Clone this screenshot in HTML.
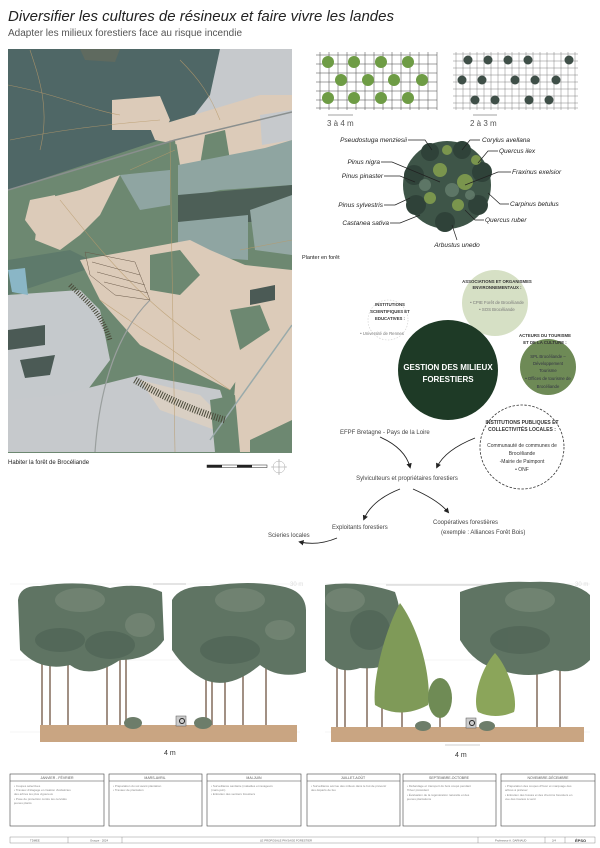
<!DOCTYPE html>
<html><head><meta charset="utf-8"><style>
html,body{margin:0;padding:0;background:#fff;}
svg{display:block;}
text{font-family:"Liberation Sans",sans-serif;}
</style></head><body>
<svg width="600" height="848" viewBox="0 0 600 848" xmlns="http://www.w3.org/2000/svg">
<rect width="600" height="848" fill="#fff"/>
<text x="8" y="21" font-family="Liberation Serif" font-style="italic" font-size="15" fill="#222">Diversifier les cultures de résineux et faire vivre les landes</text>
<text x="8" y="36" font-size="10" fill="#555">Adapter les milieux forestiers face au risque incendie</text>

<!-- MAP -->
<clipPath id="mc"><rect x="8" y="49" width="284" height="404"/></clipPath>
<g clip-path="url(#mc)">
<rect x="8" y="49" width="284" height="404" fill="#6d8871"/>
<polygon points="8,49 220,49 215,100 175,135 8,190" fill="#4f6766"/>
<polygon points="80,49 120,49 115,62 85,60" fill="#5f6a5f"/>
<polygon points="220,49 292,49 292,140 175,140 210,95" fill="#c6c9cc"/>
<polygon points="112,100 160,96 170,120 165,130 112,130" fill="#dccbb9"/>
<polygon points="150,128 260,95 292,95 292,112 180,145 155,140" fill="#dccbb9"/>
<polygon points="175,135 292,112 292,150 180,165" fill="#dccbb9"/>
<polygon points="205,135 225,130 230,160 200,165" fill="#6d8871"/>
<polygon points="260,115 292,110 292,140 262,145" fill="#c6c9cc"/>
<polygon points="8,190 175,140 178,170 170,250 8,260" fill="#6d8871"/>
<polygon points="40,200 80,190 120,175 100,215 80,235 60,250 35,240" fill="#dccbb9"/>
<polygon points="30,200 55,195 60,235 40,240 25,220" fill="#dccbb9"/>
<polygon points="120,175 170,170 170,205 140,210" fill="#8fa5a2"/>
<polygon points="178,165 265,148 292,140 292,185 220,190 178,200" fill="#8fa5a1"/>
<polygon points="178,195 292,185 292,222 178,222" fill="#4d5f57"/>
<polygon points="178,222 248,215 248,260 178,255" fill="#8fa5a2"/>
<polygon points="250,210 292,195 292,255 255,250" fill="#94a8a4"/>
<polygon points="8,260 70,250 100,265 8,295" fill="#5e7a6b"/>
<polygon points="80,260 190,240 210,250 245,265 292,270 292,330 250,360 230,390 140,345 100,300" fill="#dccbb9"/>
<polygon points="150,255 180,250 200,275 180,295 150,290" fill="#6d8871"/>
<polygon points="8,295 80,290 100,310 110,360 80,400 8,400" fill="#c5c9cc"/>
<polygon points="8,330 45,325 45,345 8,350" fill="#4b5a55"/>
<polygon points="20,360 55,355 50,375 25,378" fill="#4b5a55"/>
<polygon points="8,270 25,268 28,295 12,292" fill="#8ab6c6"/>
<polygon points="60,395 140,375 220,390 240,452 60,452" fill="#c6c9cc"/>
<polygon points="8,400 60,395 60,452 8,452" fill="#c6c9cc"/>
<polygon points="140,380 200,395 225,420 215,430 160,410" fill="#d9cfc3"/>
<polygon points="240,320 292,310 292,452 230,452" fill="#dccbb9"/>
<polygon points="250,290 275,285 275,300 250,305" fill="#4b5a55"/>
<polygon points="230,310 260,305 270,330 240,350" fill="#6d8871"/>
<polygon points="250,440 292,420 292,452 250,452" fill="#6d8871"/>
<polygon points="210,400 235,395 240,452 215,452" fill="#6d8871"/>
<g stroke="#b89a6a" stroke-width="0.6" fill="none" opacity="0.8">
<path d="M8,85 C60,95 90,110 120,115 M30,50 C40,80 50,110 40,150 M10,140 C60,130 100,125 160,120 M170,140 L175,452 M100,300 L230,390 M180,60 C200,80 210,95 220,120 M60,200 C100,250 140,300 200,340 M240,250 L292,240 M130,170 L175,150"/>
</g>
<path d="M8,190 L175,140 L292,112" stroke="#8a8f8e" stroke-width="1.5" fill="none"/>
<path d="M210,440 L292,325" stroke="#9aa" stroke-width="1.5" fill="none"/>
<path d="M150,300 C120,330 100,380 95,452" stroke="#9a9f9e" stroke-width="1.2" fill="none"/>
<g fill="none" stroke="#6a5a4a" stroke-width="0.5">
<polygon points="85,252 135,262 150,300 115,295 90,275"/>
<path d="M92,262 L140,275 M97,272 L145,285 M104,282 L148,293"/>
</g>
<path d="M70,285 C85,300 100,310 110,340" stroke="#4a4a3a" stroke-width="5" stroke-dasharray="1 1.5" fill="none"/>
<path d="M135,380 C160,395 190,410 225,420" stroke="#4a4a3a" stroke-width="7" stroke-dasharray="1 1.5" fill="none"/>
</g>
<text x="8" y="464" font-size="6" fill="#222">Habiter la forêt de Brocéliande</text>
<rect x="207" y="465" width="60" height="2.5" fill="#fff" stroke="#222" stroke-width="0.5"/>
<rect x="207" y="465" width="15" height="2.5" fill="#222"/><rect x="237" y="465" width="15" height="2.5" fill="#222"/>
<circle cx="279" cy="467" r="6" fill="none" stroke="#aaa" stroke-width="0.5"/>
<path d="M279,459 L279,475 M271,467 L287,467" stroke="#999" stroke-width="0.6"/>

<!-- GRIDS -->
<g stroke="#444" stroke-width="0.5">
<path d="M316,55H437M316,64H437M316,73H437M316,82H437M316,91H437M316,100H437M316,108H437"/>
<path d="M320,52V110M329,52V110M338,52V110M347,52V110M356,52V110M365,52V110M374,52V110M383,52V110M392,52V110M401,52V110M410,52V110M419,52V110M428,52V110M437,52V110"/>
</g>
<g stroke="#666" stroke-width="0.4">
<path d="M453,54H578M453,61H578M453,68H578M453,75H578M453,82H578M453,89H578M453,96H578M453,103H578M453,108H578"/>
<path d="M456,52V110M463,52V110M470,52V110M477,52V110M484,52V110M491,52V110M498,52V110M505,52V110M512,52V110M519,52V110M526,52V110M533,52V110M540,52V110M547,52V110M554,52V110M561,52V110M568,52V110M575,52V110"/>
</g>
<g fill="#6e9c45">
<circle cx="328" cy="62" r="6"/><circle cx="354" cy="62" r="6"/><circle cx="381" cy="62" r="6"/><circle cx="408" cy="62" r="6"/>
<circle cx="341" cy="80" r="6"/><circle cx="368" cy="80" r="6"/><circle cx="394" cy="80" r="6"/><circle cx="422" cy="80" r="6"/>
<circle cx="328" cy="98" r="6"/><circle cx="354" cy="98" r="6"/><circle cx="381" cy="98" r="6"/><circle cx="408" cy="98" r="6"/>
</g>
<g fill="#3f4f48">
<circle cx="468" cy="60" r="4.5"/><circle cx="488" cy="60" r="4.5"/><circle cx="508" cy="60" r="4.5"/><circle cx="528" cy="60" r="4.5"/><circle cx="569" cy="60" r="4.5"/>
<circle cx="462" cy="80" r="4.5"/><circle cx="482" cy="80" r="4.5"/><circle cx="515" cy="80" r="4.5"/><circle cx="535" cy="80" r="4.5"/><circle cx="556" cy="80" r="4.5"/>
<circle cx="475" cy="100" r="4.5"/><circle cx="495" cy="100" r="4.5"/><circle cx="529" cy="100" r="4.5"/><circle cx="549" cy="100" r="4.5"/>
</g>
<path d="M328,115H353M473,115H497" stroke="#444" stroke-width="0.6"/>
<text x="327" y="126" font-size="8" fill="#555">3 à 4 m</text>
<text x="470" y="126" font-size="8" fill="#555">2 à 3 m</text>

<!-- CLUSTER -->
<g>
<circle cx="447" cy="185" r="44" fill="#3e5548"/>
<g fill="#2f4239"><circle cx="430" cy="152" r="9"/><circle cx="462" cy="150" r="9"/><circle cx="414" cy="175" r="10"/><circle cx="482" cy="172" r="10"/><circle cx="416" cy="205" r="10"/><circle cx="478" cy="205" r="10"/><circle cx="445" cy="222" r="10"/></g>
<g fill="#8aa64f" opacity="0.8"><circle cx="440" cy="170" r="7"/><circle cx="465" cy="182" r="8"/><circle cx="430" cy="198" r="6"/><circle cx="458" cy="205" r="6"/><circle cx="447" cy="150" r="5"/><circle cx="476" cy="160" r="5"/></g>
<g fill="#6b8473" opacity="0.7"><circle cx="425" cy="185" r="6"/><circle cx="452" cy="190" r="7"/><circle cx="470" cy="195" r="5"/></g>
</g>
<g stroke="#222" stroke-width="0.7" fill="none">
<path d="M408,140H425L432,150M480,140H470L462,150M498,151H488L478,163M381,162H392L440,182M511,172H498L465,185M384,176H400L415,182M384,205H395L410,198M509,204H500L488,193M484,220H475L465,210M390,223H400L420,215M457,240L452,225"/>
</g>
<g font-style="italic" font-size="6.5" fill="#222">
<text x="407" y="142" text-anchor="end">Pseudostuga menziesii</text>
<text x="482" y="142">Corylus avellana</text>
<text x="499" y="153">Quercus ilex</text>
<text x="380" y="164" text-anchor="end">Pinus nigra</text>
<text x="512" y="174">Fraxinus exelsior</text>
<text x="383" y="178" text-anchor="end">Pinus pinaster</text>
<text x="383" y="207" text-anchor="end">Pinus sylvestris</text>
<text x="510" y="206">Carpinus betulus</text>
<text x="485" y="222">Quercus ruber</text>
<text x="389" y="225" text-anchor="end">Castanea sativa</text>
<text x="457" y="247" text-anchor="middle">Arbustus unedo</text>
</g>
<text x="302" y="259" font-size="5.5" fill="#222">Planter en forêt</text>

<!-- ACTORS -->
<circle cx="495" cy="303" r="33" fill="#d6e0c5"/>
<circle cx="388" cy="320" r="20" fill="none" stroke="#ccc" stroke-width="0.6" stroke-dasharray="1.5 1.5"/>
<circle cx="448" cy="370" r="50" fill="#1e3a26"/>
<circle cx="548" cy="367" r="28" fill="#6e8a56"/>
<circle cx="522" cy="447" r="42" fill="none" stroke="#333" stroke-width="0.8" stroke-dasharray="2.5 1.5"/>
<g font-size="4.3" fill="#333" text-anchor="middle">
<text x="497" y="283" font-weight="bold">ASSOCIATIONS ET ORGANISMES</text>
<text x="497" y="289" font-weight="bold">ENVIRONNEMENTAUX :</text>
<text x="497" y="304" fill="#777">• CPIE Forêt de Brocéliande</text>
<text x="497" y="311" fill="#777">• SOS Brocéliande</text>
<text x="390" y="306" font-weight="bold">INSTITUTIONS</text>
<text x="390" y="313" font-weight="bold">SCIENTIFIQUES ET</text>
<text x="390" y="320" font-weight="bold">EDUCATIVES :</text>
<text x="382" y="335" fill="#777">• Université de Rennes</text>
<text x="545" y="337" font-weight="bold">ACTEURS DU TOURISME</text>
<text x="545" y="344" font-weight="bold">ET DE LA CULTURE :</text>
<text x="548" y="358" fill="#334">SPL Brocéliande –</text>
<text x="548" y="365" fill="#334">Développement</text>
<text x="548" y="372" fill="#334">Tourisme</text>
<text x="548" y="380" fill="#334">• Offices de tourisme de</text>
<text x="548" y="388" fill="#334">Brocéliande</text>
<text x="522" y="424" font-weight="bold" font-size="5">INSTITUTIONS PUBLIQUES ET</text>
<text x="522" y="431" font-weight="bold" font-size="5">COLLECTIVITÉS LOCALES :</text>
<text x="522" y="447" font-size="5">Communauté de communes de</text>
<text x="522" y="455" font-size="5">Brocéliande</text>
<text x="522" y="463" font-size="5">-Mairie de Paimpont</text>
<text x="522" y="471" font-size="5">• ONF</text>
</g>
<text x="448" y="370" font-size="8" font-weight="bold" fill="#fff" text-anchor="middle">GESTION DES MILIEUX</text>
<text x="448" y="382" font-size="8" font-weight="bold" fill="#fff" text-anchor="middle">FORESTIERS</text>
<g font-size="6" fill="#444">
<text x="340" y="434">EFPF Bretagne - Pays de la Loire</text>
<text x="407" y="480" text-anchor="middle">Sylviculteurs et propriétaires forestiers</text>
<text x="332" y="529">Exploitants forestiers</text>
<text x="433" y="524">Coopératives forestières</text>
<text x="441" y="534">(exemple : Alliances Forêt Bois)</text>
<text x="268" y="537">Scieries locales</text>
</g>
<defs><marker id="ar" markerWidth="6" markerHeight="6" refX="4" refY="3" orient="auto"><path d="M0,0L6,3L0,6z" fill="#222"/></marker></defs>
<g stroke="#222" stroke-width="0.9" fill="none" marker-end="url(#ar)">
<path d="M380,437 Q405,448 410,467"/>
<path d="M475,438 Q445,450 437,467"/>
<path d="M400,489 Q372,500 364,519"/>
<path d="M413,489 Q438,500 448,512"/>
<path d="M337,538 Q318,546 300,542"/>
</g>

<!-- SECTIONS -->
<g stroke="#eee" stroke-width="0.6"><path d="M10,584H300M10,660H300M10,732H300M325,584H590M325,660H590M325,732H590"/></g>
<path d="M153,584H186M386,585H500" stroke="#999" stroke-width="0.6"/>
<text x="290" y="586" font-size="6" fill="#ddd">30 m</text>
<text x="575" y="586" font-size="6" fill="#ddd">30 m</text>
<rect x="40" y="725" width="257" height="17" fill="#c9a582"/>
<rect x="331" y="727" width="253" height="15" fill="#c9a582"/>
<g stroke="#8a7565" stroke-width="1.6">
<path d="M42,725V650M50,725V640M68,725V640M107,725V650M120,725V660M126,725V640M206,725V650M212,725V640M225,725V660M243,725V650M266,725V640"/>
<path d="M337,727V650M345,727V640M367,727V650M382,727V700M402,727V690M440,727V690M537,727V660M560,727V650"/>
</g>
<g fill="#5f7463">
<path d="M18,600 Q20,585 40,586 Q80,580 110,588 Q140,582 162,592 L164,640 Q150,660 120,660 Q90,680 70,665 Q40,672 20,650 Z"/>
<path d="M172,600 Q180,585 210,586 Q250,580 280,586 Q305,590 306,610 L306,672 Q280,680 260,665 Q230,690 205,680 Q185,670 172,650 Z"/>
<path d="M325,585 Q360,580 395,592 Q405,620 400,660 Q380,670 360,668 Q340,675 325,660 Z"/>
<path d="M460,592 Q490,580 530,582 Q575,580 590,595 L590,660 Q575,675 555,670 Q530,680 500,670 Q475,665 460,640 Z"/>
</g>
<g fill="#7e8f7e" opacity="0.55">
<ellipse cx="80" cy="600" rx="25" ry="12"/><ellipse cx="140" cy="625" rx="15" ry="12"/><ellipse cx="240" cy="600" rx="25" ry="12"/><ellipse cx="530" cy="600" rx="25" ry="12"/><ellipse cx="345" cy="600" rx="20" ry="12"/><ellipse cx="280" cy="630" rx="15" ry="10"/>
</g>
<g fill="#4c6153" opacity="0.6">
<ellipse cx="60" cy="640" rx="25" ry="12"/><ellipse cx="110" cy="645" rx="25" ry="14"/><ellipse cx="230" cy="650" rx="30" ry="14"/><ellipse cx="370" cy="630" rx="20" ry="20"/><ellipse cx="520" cy="640" rx="30" ry="14"/>
</g>
<path d="M400,603 C385,630 372,680 375,705 Q400,720 428,705 C432,680 420,630 400,603z" fill="#7f9a58"/>
<ellipse cx="440" cy="698" rx="12" ry="20" fill="#6f8b55"/>
<path d="M495,653 C480,670 472,700 478,712 Q495,720 514,712 C518,700 510,670 495,653z" fill="#8ba55a"/>
<g fill="#6d7d6a"><ellipse cx="133" cy="723" rx="9" ry="6"/><ellipse cx="203" cy="723" rx="9" ry="6"/><ellipse cx="423" cy="726" rx="8" ry="5"/><ellipse cx="487" cy="726" rx="8" ry="5"/></g>
<rect x="176" y="716" width="10" height="10" fill="#ccc" stroke="#555" stroke-width="0.5"/><circle cx="182" cy="721" r="2.5" fill="none" stroke="#222"/>
<rect x="466" y="718" width="10" height="10" fill="#ccc" stroke="#555" stroke-width="0.5"/><circle cx="472" cy="723" r="2.5" fill="none" stroke="#222"/>
<path d="M445,745H480" stroke="#999" stroke-width="0.5"/>
<text x="164" y="755" font-size="7" fill="#333">4 m</text>
<text x="455" y="757" font-size="7" fill="#333">4 m</text>

<!-- TIMELINE -->
<g fill="#fff" stroke="#444" stroke-width="0.6">
<rect x="10" y="774" width="94" height="52"/><rect x="109" y="774" width="93" height="52"/><rect x="207" y="774" width="94" height="52"/><rect x="307" y="774" width="93" height="52"/><rect x="403" y="774" width="93" height="52"/><rect x="501" y="774" width="94" height="52"/>
<path d="M10,781H104M109,781H202M207,781H301M307,781H400M403,781H496M501,781H595"/>
</g>
<g font-size="3.5" fill="#555" text-anchor="middle">
<text x="57" y="779">JANVIER - FÉVRIER</text><text x="155" y="779">MARS-AVRIL</text><text x="254" y="779">MAI-JUIN</text><text x="353" y="779">JUILLET-AOÛT</text><text x="449" y="779">SEPTEMBRE-OCTOBRE</text><text x="548" y="779">NOVEMBRE-DÉCEMBRE</text>
</g>
<g font-size="3" fill="#888">
<text x="14" y="787">• Coupes sélectives</text><text x="14" y="791">• Travaux d'élagage et création d'éclaircies</text><text x="14" y="795">  des arbres les plus vigoureux</text><text x="14" y="800">• Pose de protection contre les cervidés</text><text x="14" y="804">  jeunes plants</text>
<text x="113" y="787">• Préparation du sol avant plantation</text><text x="113" y="791">• Travaux de plantation</text>
<text x="211" y="787">• Surveillance sanitaire (maladies et ravageurs</text><text x="211" y="791">  (mars-juin)</text><text x="211" y="795">• Entretien des sentiers forestiers</text>
<text x="311" y="787">• Surveillance accrue des milieux dans le but de prévenir</text><text x="311" y="791">  des départs de feu</text>
<text x="407" y="787">• Débardage et transport du bois coupé pendant</text><text x="407" y="791">  l'hiver précédent</text><text x="407" y="796">• Évaluation de la régénération naturelle et des</text><text x="407" y="800">  jeunes plantations</text>
<text x="505" y="787">• Préparation des coupes d'hiver et marquage des</text><text x="505" y="791">  arbres à prélever</text><text x="505" y="796">• Entretien des fossés et des chemins forestiers en</text><text x="505" y="800">  vue des travaux à venir</text>
</g>
<rect x="10" y="837" width="585" height="6" fill="#fff" stroke="#777" stroke-width="0.4"/>
<g stroke="#777" stroke-width="0.4"><path d="M68,837V843M122,837V843M478,837V843M545,837V843M565,837V843"/></g>
<g font-size="2.8" fill="#666"><text x="30" y="841.5">TDMEE</text><text x="90" y="841.5">Groupe · 2024</text><text x="260" y="841.5">LE PROPOSALE PAYSAGE FORESTIER</text><text x="495" y="841.5">Professeur A. DARNAUD</text><text x="552" y="841.5">2/4</text></g>
<text x="575" y="842" font-size="4" font-weight="bold" fill="#333">ÉPSO</text>
</svg>
</body></html>
